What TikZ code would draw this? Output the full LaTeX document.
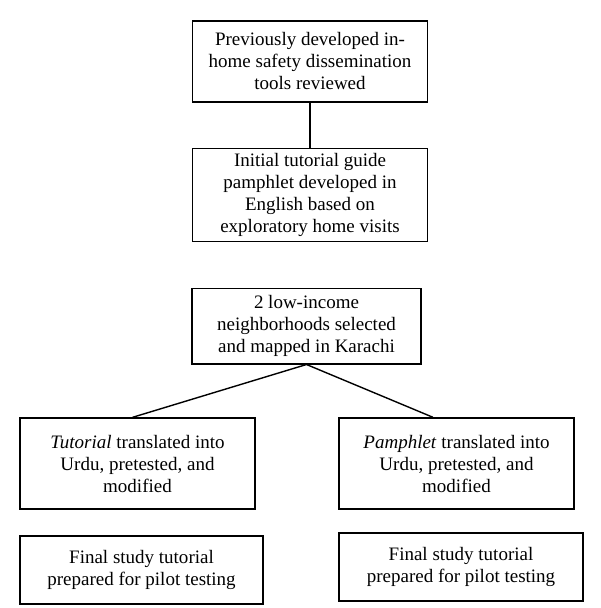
\documentclass[tikz,border=0pt]{standalone}
\usepackage{fontspec}
\setmainfont{Liberation Serif}
\usetikzlibrary{positioning}
\tikzset{node distance=22.5pt, % Gap between stacked boxes
        every node/.style={font=\fontsize{9.5}{11}\selectfont},
        stagebox/.style={ % Sets the properties for each box
            draw,
            line width=0.7pt,
            align=center,
            inner sep=2pt,
            minimum width=117.5pt},
        link/.style={ % Plain connecting lines, no arrow tips
            draw,
            line width=0.7pt}
        }

\begin{document}
\begin{tikzpicture}[x=0.5pt,y=-0.5pt]
    \useasboundingbox (0,0) rectangle (600,608);

    \node[stagebox, minimum height=40.5pt] (review) at (310,61.5)
        {Previously developed in-\\home safety dissemination\\tools reviewed};
    \node[stagebox, minimum height=46.5pt] (guide) [below=of review]
        {Initial tutorial guide\\pamphlet developed in\\English based on\\exploratory home visits};
    \node[stagebox, minimum width=114.5pt, minimum height=37.5pt] (karachi) [below=23pt of guide, xshift=-1.75pt]
        {2 low-income\\neighborhoods selected\\and mapped in Karachi};

    \node[stagebox, minimum height=45.5pt] (tutorial) at (137.5,463.5)
        {\textit{Tutorial} translated into\\Urdu, pretested, and\\modified};
    \node[stagebox, minimum height=45.5pt] (pamphlet) at (456.5,463.5)
        {\textit{Pamphlet} translated into\\Urdu, pretested, and\\modified};

    \node[stagebox, minimum width=121.5pt, minimum height=34pt] (finalA) at (141.5,570)
        {Final study tutorial\\prepared for pilot testing};
    \node[stagebox, minimum width=122pt, minimum height=34pt] (finalB) at (461,567)
        {Final study tutorial\\prepared for pilot testing};

    \draw[link] (review) -- (guide);
    \draw[link]
        (karachi.south) -- (tutorial.96)
        (karachi.south) -- (pamphlet.117);
\end{tikzpicture}
\end{document}
